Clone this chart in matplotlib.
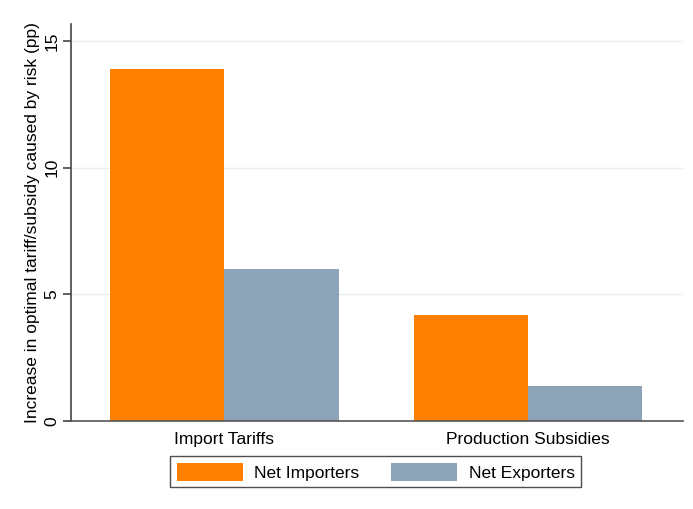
import matplotlib.pyplot as plt
import numpy as np

plt.rcParams['font.family'] = ['Liberation Sans', 'DejaVu Sans']

categorias = ['Import Tariffs', 'Production Subsidies']
importadores = [13.9, 4.2]
exportadores = [6.0, 1.4]

x = np.arange(len(categorias))
w = 0.376

fig = plt.figure(figsize=(6.93, 5.09), dpi=100)
ax = fig.add_axes([0.1025, 0.1729, 0.8831, 0.7799])

ax.bar(x - w / 2, importadores, w, color='#ff7f00', label='Net Importers', zorder=2)
ax.bar(x + w / 2, exportadores, w, color='#8ca3b8', label='Net Exporters', zorder=2)

ax.set_xlim(-0.505, 1.51)
ax.set_ylim(0, 15.67)
ax.set_yticks([0, 5, 10, 15])
ax.set_yticklabels(['0', '5', '10', '15'], rotation=90, va='center', fontsize=12.5)
ax.set_xticks(x)
ax.set_xticklabels(categorias, fontsize=12.5)
ax.tick_params(axis='x', length=0, pad=8)
ax.tick_params(axis='y', length=5.5, width=1.2, color='#444444', pad=3)

ax.grid(axis='y', color='#e8f0f2', linewidth=1, zorder=0)
ax.spines['top'].set_visible(False)
ax.spines['right'].set_visible(False)
ax.spines['left'].set_color('#444444')
ax.spines['bottom'].set_color('#555555')
ax.spines['left'].set_linewidth(1.2)
ax.spines['bottom'].set_linewidth(1.2)

ax.set_ylabel('Increase in optimal tariff/subsidy caused by risk (pp)', fontsize=12.5)
ax.yaxis.set_label_coords(-0.0507, 0.5)

leg = ax.legend(loc='upper center', bbox_to_anchor=(0.498, -0.088), ncol=2, fontsize=12.5,
                frameon=True, fancybox=False, edgecolor='#222222', handlelength=3.8,
                handleheight=1.25, columnspacing=1.85, handletextpad=0.65, borderpad=0.38,
                borderaxespad=0)
leg.get_frame().set_linewidth(1.0)

fig.savefig('out.png', dpi=100)
